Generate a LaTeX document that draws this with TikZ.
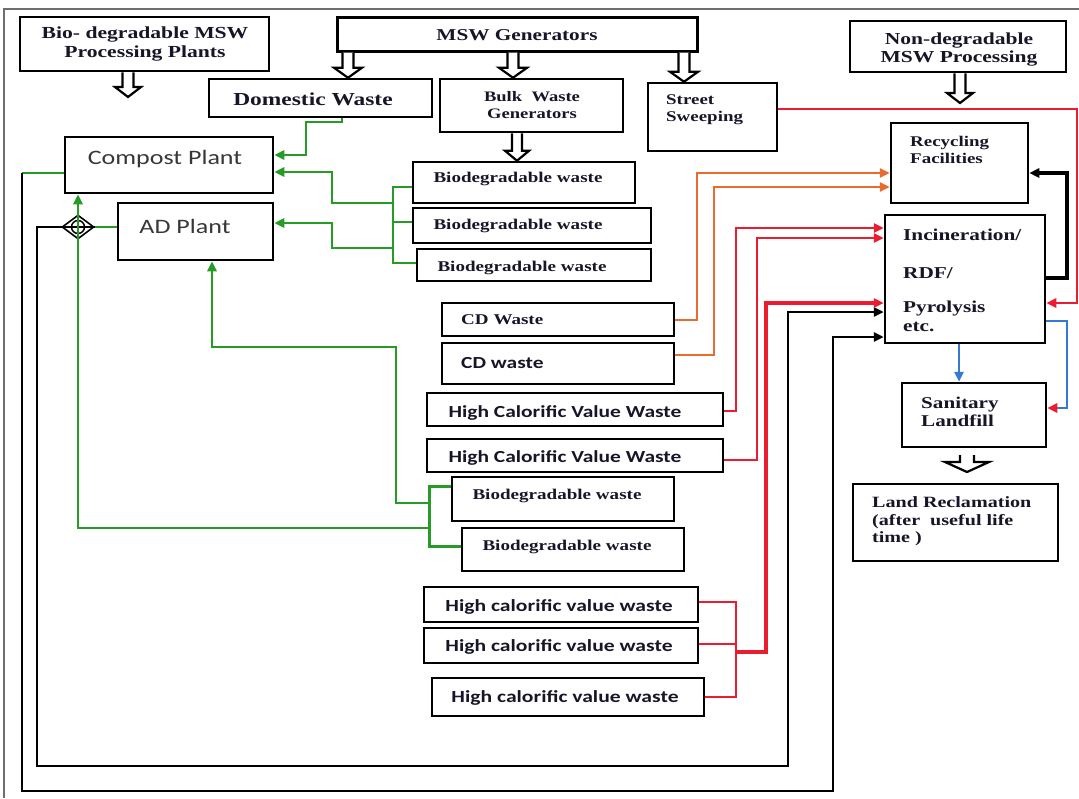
\documentclass[tikz,border=0pt]{standalone}
\usepackage{fontspec}
\usetikzlibrary{arrows.meta,calc,shapes.geometric}
\newfontfamily\serifB[FakeStretch=1.28]{Liberation Serif}
\newfontfamily\sansC[FakeStretch=1.27]{Carlito}
\definecolor{gcol}{RGB}{38,155,38}
\definecolor{ocol}{RGB}{232,108,48}
\definecolor{rcol}{RGB}{236,28,48}
\definecolor{bcol}{RGB}{52,122,210}
\definecolor{txtc}{RGB}{22,22,40}
\definecolor{grtxt}{RGB}{55,55,55}
\definecolor{framec}{RGB}{110,110,110}
\tikzset{
  box/.style={draw=black, line width=2.5pt, inner sep=0pt},
  sf/.style={font=\serifB\bfseries\fontsize{#1}{#1}\selectfont, text=txtc, inner sep=0pt},
  sr/.style={font=\sansC\fontsize{#1}{#1}\selectfont, text=grtxt, inner sep=0pt},
  sb/.style={font=\sansC\bfseries\fontsize{#1}{#1}\selectfont, text=txtc, inner sep=0pt},
  tip/.style={-{Triangle[length=10pt,width=9pt]}},
  gline/.style={draw=gcol, line width=2.6pt},
  garrow/.style={gline, tip},
  kline/.style={draw=black, line width=2.5pt},
  karrow/.style={kline, tip},
  oarrow/.style={draw=ocol, line width=2.6pt, tip},
  rline/.style={draw=rcol, line width=2.2pt},
  rarrow/.style={draw=rcol, line width=2.6pt, tip},
  barrow/.style={draw=bcol, line width=2.6pt, tip},
  harrow/.style={draw=black, line width=2.2pt, fill=white, line join=miter},
}
\newcommand\hollowarrow[4]{%
  \draw[harrow] let \p1=#1, \p2=#2 in
    (\x1-#3,\y1) -- (\x1-#3,\y2+10pt) -- (\x1-#4,\y2+10pt) -- (\x1,\y2)
    -- (\x1+#4,\y2+10pt) -- (\x1+#3,\y2+10pt) -- (\x1+#3,\y1);}
\begin{document}
\begin{tikzpicture}[x=1pt,y=-1pt]
\useasboundingbox (0,0) rectangle (1079,798);
\draw[framec, line width=2pt] (4,798) -- (4,9) -- (1079,9);

% boxes
\node[box, minimum width=249pt, minimum height=54pt] (bio) at (144.5,44) {};
\node[box, line width=3pt, minimum width=360pt, minimum height=34pt] (msw) at (517,34) {};
\node[box, minimum width=216pt, minimum height=51pt] (nond) at (958,46.5) {};
\node[box, minimum width=223pt, minimum height=38pt] (dom) at (320.5,98) {};
\node[box, minimum width=183pt, minimum height=53pt] (bulk) at (531.5,105.5) {};
\node[box, minimum width=129pt, minimum height=68pt] (street) at (712.5,117) {};
\node[box, minimum width=208pt, minimum height=56pt] (cp) at (169,165) {};
\node[box, minimum width=155pt, minimum height=57pt] (ad) at (195.5,231.5) {};
\node[box, minimum width=222pt, minimum height=41pt] (b1) at (524,182.5) {};
\node[box, minimum width=238pt, minimum height=35pt] (b2) at (532,225.5) {};
\node[box, minimum width=234pt, minimum height=32pt] (b3) at (534,265) {};
\node[box, minimum width=137pt, minimum height=80pt] (rec) at (959.5,163) {};
\node[box, minimum width=160pt, minimum height=128pt] (inc) at (965,279) {};
\node[box, minimum width=232pt, minimum height=33pt] (cd1) at (558,319.5) {};
\node[box, minimum width=232pt, minimum height=41pt] (cd2) at (558,363.5) {};
\node[box, minimum width=296pt, minimum height=33pt] (h1) at (575,409.5) {};
\node[box, minimum width=296pt, minimum height=33pt] (h2) at (575,455.5) {};
\node[box, minimum width=144pt, minimum height=64pt] (san) at (974,415) {};
\node[box, minimum width=205pt, minimum height=77pt] (land) at (955.5,522.5) {};
\node[box, minimum width=222pt, minimum height=44pt] (b4) at (563,499) {};
\node[box, minimum width=222pt, minimum height=43pt] (b5) at (573,549.5) {};
\node[box, minimum width=274pt, minimum height=35pt] (l1) at (561,604.5) {};
\node[box, minimum width=274pt, minimum height=35pt] (l2) at (561,645.5) {};
\node[box, minimum width=272pt, minimum height=38pt] (l3) at (568,697) {};

% texts
\node[sf=16.9pt, align=center] (tbio) at (145,44) {Bio- degradable MSW\\[2pt]Processing Plants};
\node[sf=16.6pt] (tmsw) at (517,35) {MSW Generators};
\node[sf=16.8pt, align=center] (tnond) at (959,49.5) {Non-degradable\\[0.5pt]MSW Processing};
\node[sf=18.3pt] (tdom) at (313,99) {Domestic Waste};
\node[sf=14.5pt, align=center] (tbulk) at (532,105.5) {Bulk\ \ Waste\\[2.5pt]Generators};
\node[sf=14.8pt, align=left, anchor=west] (tstreet) at (666,109.5) {Street\\[2pt]Sweeping};
\node[sr=20.5pt] (tcp) at (165,159) {Compost Plant};
\node[sr=20.5pt] (tad) at (185,226) {AD Plant};
\node[sf=14.9pt] (tb1) at (518,179) {Biodegradable waste};
\node[sf=14.9pt] (tb2) at (518,226) {Biodegradable waste};
\node[sf=14.9pt] (tb3) at (522,268) {Biodegradable waste};
\node[sf=14.9pt] (tb4) at (557,496) {Biodegradable waste};
\node[sf=14.9pt] (tb5) at (567,547) {Biodegradable waste};
\node[sf=14.8pt, align=left, anchor=west] (trec) at (910,150) {Recycling\\[3pt]Facilities};
\node[sf=16.6pt, align=left, anchor=west] (tinc) at (903,280) {Incineration/\\[22pt]RDF/\\[17pt]Pyrolysis\\[2pt]etc.};
\node[sf=16.5pt, align=left, anchor=west] (tsan) at (921,412) {Sanitary\\[1.5pt]Landfill};
\node[sf=15.7pt, align=left, anchor=west] (tland) at (872,521) {Land Reclamation\\[2pt](after\ \ useful life\\[1.5pt]time )};
\node[sf=14.9pt, anchor=west] (tcd1) at (461,320) {CD Waste};
\node[sb=16.9pt, anchor=west] (tcd2) at (461,363) {CD waste};
\node[sb=16.9pt] (th1) at (565,413) {High Calorific Value Waste};
\node[sb=16.9pt] (th2) at (565,458) {High Calorific Value Waste};
\node[sb=17pt] (tl1) at (559,607) {High calorific value waste};
\node[sb=17pt] (tl2) at (559,647) {High calorific value waste};
\node[sb=17pt] (tl3) at (565,698) {High calorific value waste};

% hollow arrows
\hollowarrow{(bio.south -| 128,0)}{(128,97)}{5.5pt}{13pt}
\hollowarrow{(msw.south -| 348,0)}{(dom.north -| 348,0)}{5.5pt}{14pt}
\hollowarrow{(msw.south -| 513,0)}{(bulk.north -| 513,0)}{5.5pt}{14pt}
\hollowarrow{(msw.south -| 684,0)}{(street.north -| 684,0)}{5.5pt}{14pt}
\hollowarrow{(bulk.south -| 517,0)}{(b1.north -| 517,0)}{5pt}{12pt}
\hollowarrow{(nond.south -| 960,0)}{(960,103)}{5.5pt}{13pt}
\hollowarrow{(967,455)}{(967,472)}{7pt}{22pt}

% junction symbol
\node[draw=black, diamond, aspect=1.36, minimum width=32pt, minimum height=24pt, inner sep=0pt, line width=1.6pt] (jn) at (78,227) {};
\draw[black, line width=1.5pt] (jn.center) circle (6.5pt);
\draw[black, line width=1.5pt] (jn.west) -- (jn.east);

% green connectors
\draw[garrow] ([xshift=21.5pt]dom.south) -- (342,122) -- (306,122) -- (306,155) -- (cp.east |- 0,155);
\draw[gline] (b1.west |- 0,187) -| (393,263) -- (b3.west |- 0,263);
\draw[gline] (393,222) -- (b2.west |- 0,222);
\draw[garrow] (393,203) -| (332,172) -- (cp.east |- 0,172);
\draw[garrow] (393,248) -| (332,223) -- (ad.east |- 0,223);
\draw[gline, line width=3pt] (b4.west |- 0,486) -| (429,546) -- (b5.west |- 0,546);
\draw[garrow] (429,503) -| (396,347) -| (ad.south -| 212,0);
\draw[garrow] (429,528) -| (cp.south -| 78,0);
\draw[gline] (ad.west |- 0,227) -- (jn.east);
\draw[gline] (cp.west |- 0,173) -- (22,173);

% black connectors
\draw[karrow] (22,173) -- (22,791) -| (833,337) -- (inc.west |- 0,337);
\draw[karrow] (jn.west) -- (37,227) -- (37,766) -| (788,312) -- (inc.west |- 0,312);
\draw[karrow, line width=3.5pt] (inc.east |- 0,278) -| (1067,173) -- (rec.east |- 0,173);

% orange connectors
\draw[oarrow] (cd1.east |- 0,320) -| (697,173) -- (rec.west |- 0,173);
\draw[oarrow] (cd2.east |- 0,355) -| (714,187) -- (rec.west |- 0,187);

% red connectors
\draw[rarrow] (h1.east |- 0,411) -| (736,228) -- (inc.west |- 0,228);
\draw[rarrow] (h2.east |- 0,460) -| (757,238) -- (inc.west |- 0,238);
\draw[rline] (l1.east |- 0,602) -| (736,697) -- (l3.east |- 0,697);
\draw[rline] (l2.east |- 0,644) -- (736,644);
\draw[rarrow, line width=3.4pt] (736,652) -| (766,303) -- (inc.west |- 0,303);
\draw[rarrow] (street.east |- 0,109) -| (1077,303) -- (inc.east |- 0,303);

% blue connectors
\draw[barrow] (inc.south -| 959,0) -- (san.north -| 959,0);
\draw[draw=bcol, line width=2.8pt, -{Triangle[length=10pt,width=9pt,color=rcol]}] (inc.east |- 0,321) -| (1067,408) -- (san.east |- 0,408);
\end{tikzpicture}
\end{document}
